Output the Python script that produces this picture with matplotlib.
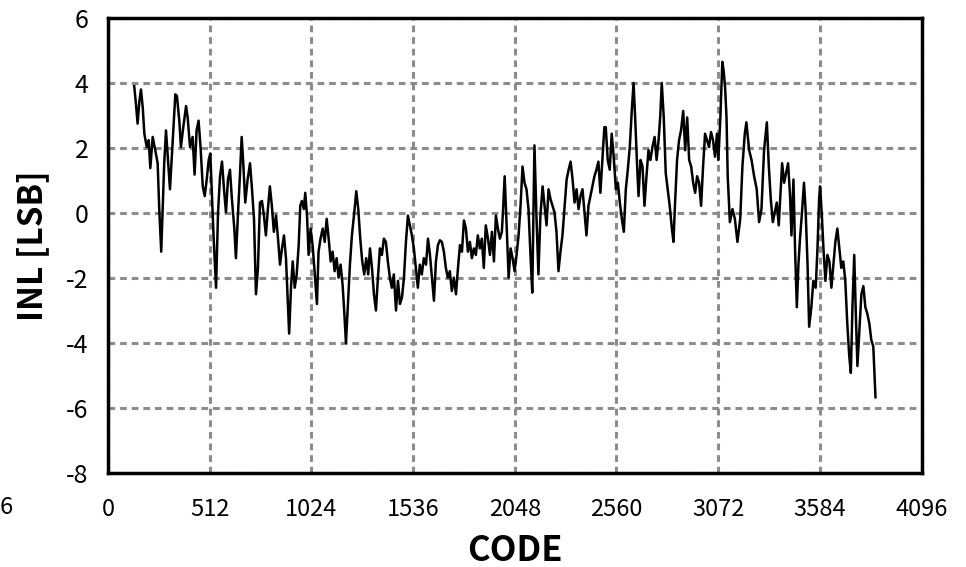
import matplotlib
matplotlib.use("Agg")
import matplotlib.pyplot as plt
from matplotlib import font_manager

# INL curve (code, LSB)
code = [132, 141, 149, 158, 166, 175, 183, 195, 205, 213, 225, 238, 250, 258, 268,
        278, 283, 292, 302, 312, 322, 331, 339, 347, 359, 367, 379, 393, 401, 413,
        426, 436, 446, 456, 466, 477, 487, 497, 507, 515, 523, 532, 544, 554, 564,
        574, 584, 594, 604, 614, 624, 636, 644, 654, 664, 673, 681, 691, 703, 715,
        725, 735, 745, 755, 765, 775, 785, 795, 805, 815, 825, 835, 846, 856, 866,
        876, 886, 896, 906, 912, 922, 930, 940, 950, 960, 968, 976, 986, 993, 1002,
        1010, 1020, 1030, 1040, 1052, 1060, 1070, 1081, 1091, 1101, 1111, 1121, 1131,
        1141, 1151, 1161, 1171, 1181, 1191, 1198, 1208, 1218, 1228, 1240, 1250, 1260,
        1270, 1280, 1290, 1300, 1310, 1319, 1329, 1339, 1349, 1359, 1369, 1379, 1389,
        1399, 1409, 1419, 1429, 1439, 1450, 1460, 1470, 1480, 1490, 1500, 1510, 1520,
        1530, 1540, 1550, 1560, 1570, 1580, 1590, 1601, 1611, 1621, 1631, 1641, 1651,
        1661, 1671, 1681, 1691, 1701, 1711, 1721, 1731, 1741, 1752, 1762, 1772, 1782,
        1792, 1802, 1812, 1822, 1832, 1842, 1852, 1862, 1872, 1882, 1892, 1902, 1913,
        1923, 1933, 1943, 1953, 1963, 1973, 1983, 1990, 1997, 2007, 2017, 2027, 2037,
        2047, 2057, 2067, 2077, 2087, 2097, 2107, 2117, 2127, 2136, 2147, 2157, 2167,
        2177, 2188, 2198, 2208, 2218, 2228, 2238, 2248, 2258, 2268, 2278, 2288, 2298,
        2309, 2319, 2329, 2339, 2349, 2359, 2369, 2379, 2389, 2399, 2409, 2419, 2429,
        2439, 2449, 2459, 2469, 2479, 2489, 2499, 2506, 2516, 2526, 2536, 2546, 2557,
        2567, 2577, 2587, 2597, 2607, 2617, 2627, 2637, 2646, 2654, 2664, 2671, 2681,
        2691, 2701, 2711, 2721, 2731, 2741, 2752, 2762, 2772, 2780, 2788, 2798, 2808,
        2818, 2828, 2839, 2847, 2855, 2865, 2875, 2885, 2896, 2906, 2916, 2926, 2936,
        2946, 2956, 2966, 2976, 2986, 2996, 3006, 3016, 3026, 3036, 3046, 3056, 3066,
        3073, 3083, 3093, 3100, 3107, 3114, 3120, 3131, 3144, 3156, 3169, 3183, 3194,
        3206, 3214, 3228, 3240, 3253, 3266, 3278, 3290, 3303, 3317, 3327, 3337, 3347,
        3357, 3367, 3377, 3387, 3394, 3404, 3414, 3424, 3434, 3441, 3451, 3459, 3468,
        3476, 3484, 3494, 3504, 3512, 3522, 3530, 3541, 3551, 3563, 3572, 3580, 3585,
        3594, 3602, 3612, 3622, 3632, 3642, 3652, 3662, 3672, 3682, 3692, 3702, 3712,
        3722, 3732, 3740, 3748, 3757, 3765, 3773, 3783, 3793, 3803, 3813, 3823, 3833,
        3843, 3853, 3864]
inl = [3.9, 3.34, 2.75, 3.44, 3.8, 3.24, 2.44, 2.03, 2.24, 1.38, 2.34, 1.93, 1.53, 0.12, -1.19,
       0.62, 1.53, 2.54, 1.63, 0.73, 1.83, 2.84, 3.65, 3.6, 2.84, 2.03, 2.64, 3.29, 2.94, 2.03,
       2.34, 1.18, 2.54, 2.84, 2.03, 0.82, 0.52, 1.03, 1.63, 1.83, 0.62, -0.79, -2.3, 0.02, 1.13,
       1.58, 0.73, 0.02, 1.03, 1.33, 0.42, -0.48, -1.39, -0.08, 1.13, 2.34, 1.53, 0.32, 1.03, 1.53,
       0.73, -0.18, -2.5, -1.69, 0.32, 0.37, -0.08, -0.69, 0.12, 0.82, 0.22, -0.58, -0.08, -0.79, -1.59,
       -1.09, -0.69, -1.39, -2.8, -3.71, -2.2, -1.49, -2.3, -1.89, -0.99, 0.22, 0.37, 0.12, 0.62, -0.08,
       -1.29, -0.48, -0.99, -1.79, -2.8, -1.19, -0.79, -0.48, -0.89, -0.18, -0.79, -1.49, -1.19,
       -1.79, -1.39, -1.99, -1.59, -2.2, -3.2, -4.01, -2.8, -1.59, -0.69, 0.02, 0.67, 0.12,
       -0.79, -1.49, -1.89, -1.39, -1.89, -1.09, -1.69, -2.5, -3.0, -1.99, -1.09, -1.29, -0.79,
       -0.89, -1.49, -1.99, -2.3, -1.89, -3.0, -2.09, -2.8, -2.6, -1.99, -0.89, -0.08, -0.38,
       -0.69, -1.09, -1.69, -2.3, -1.59, -1.89, -1.39, -1.59, -0.79, -1.29, -1.99, -2.7, -1.49,
       -0.99, -0.84, -0.89, -1.19, -1.69, -1.99, -1.79, -2.4, -1.99, -2.5, -1.69, -0.99, -1.19,
       -0.23, -0.48, -1.19, -0.89, -1.39, -1.09, -1.29, -0.69, -1.09, -0.79, -1.69, -0.38, -0.79,
       -1.29, -0.58, -1.49, -0.08, -0.48, -0.79, -0.58, 0.22, 1.13, -0.38, -1.99, -1.09, -1.39,
       -1.79, -1.29, -0.69, 0.22, 1.43, 0.93, 0.73, 0.12, -1.29, -2.45, 2.08, -0.08, -1.89,
       -0.08, 0.82, 0.22, -0.38, 0.73, 0.42, 0.22, 0.02, -0.58, -1.79, -1.19, -0.69, 0.12,
       1.03, 1.33, 1.58, 1.03, 0.32, 0.73, 0.12, 0.52, 0.73, 0.02, -0.69, 0.22, 0.52,
       0.82, 1.13, 1.33, 1.58, 0.62, 1.63, 2.64, 2.64, 1.63, 1.33, 2.44, 1.73, 0.73,
       0.93, 0.32, -0.18, -0.58, 0.73, 1.33, 2.03, 3.14, 4.0, 2.94, 1.43, 0.52, 1.63,
       1.43, 0.22, 1.13, 1.93, 1.63, 2.03, 2.34, 1.63, 2.24, 2.94, 4.0, 2.94, 1.23,
       0.73, 0.22, -0.48, -0.89, 0.32, 1.63, 2.24, 2.54, 3.14, 1.93, 2.94, 1.63, 1.43,
       0.93, 0.62, 1.13, 0.93, 0.22, 1.43, 2.44, 2.24, 2.03, 2.49, 2.24, 1.73, 2.44,
       1.63, 2.94, 4.65, 4.35, 3.85, 2.94, 1.13, -0.28, 0.12, -0.18, -0.89, -0.18, 1.43,
       2.44, 2.79, 1.93, 1.63, 1.13, 0.73, -0.28, 0.12, 1.93, 2.79, 1.43, 0.42, -0.28,
       0.02, 0.32, -0.38, 0.73, 1.53, 0.93, 1.23, 1.53, 0.52, -0.69, 1.03, -1.09, -2.9,
       -1.59, -0.79, 0.02, 0.93, 0.12, -1.59, -3.5, -2.9, -2.09, -2.3, -1.09, 0.42, 0.82,
       -0.08, -1.09, -2.09, -1.29, -1.49, -2.3, -1.59, -0.89, -0.48, -1.09, -1.69, -1.49, -2.09,
       -3.4, -4.41, -4.92, -2.9, -1.29, -3.1, -4.71, -3.6, -2.5, -2.25, -2.9, -3.1, -3.4,
       -3.91, -4.11, -5.67]

x_ticks = [0, 512, 1024, 1536, 2048, 2560, 3072, 3584, 4096]
y_ticks = [-8, -6, -4, -2, 0, 2, 4, 6]

plt.rcParams['axes.unicode_minus'] = False

installed = {f.name for f in font_manager.fontManager.ttflist}
narrow = [f for f in ['Liberation Sans Narrow', 'DejaVu Sans Condensed'] if f in installed]
base = ['Noto Sans CJK JP', 'DejaVu Sans']

fig = plt.figure(figsize=(9.66, 5.67), dpi=100)
ax = fig.add_axes([0.1118, 0.1658, 0.8422, 0.8025])

ax.plot(code, inl, color='black', lw=1.8)

ax.set_xlim(0, 4096)
ax.set_ylim(-8, 6)
ax.set_xticks(x_ticks)
ax.set_yticks(y_ticks)
ax.grid(True, color='#8c8c8c', linestyle=(0, (2.2, 1.6)), linewidth=2.2)
ax.tick_params(axis='y', length=0, pad=14)
ax.tick_params(axis='x', length=0, pad=18)
for s in ax.spines.values():
    s.set_linewidth(2.5)
    s.set_color('black')

for t in ax.get_yticklabels():
    t.set_fontfamily(base)
    t.set_fontsize(18)
for t in ax.get_xticklabels():
    t.set_fontfamily(narrow + base if t.get_text() != '0' else base)
    t.set_fontsize(17)

ax.set_xlabel('CODE', fontsize=25, fontweight='bold', family=narrow + base, labelpad=9)
ax.set_ylabel('INL [LSB]', fontsize=24, fontweight='bold', family=base, labelpad=12)

# clipped leftover tick label at the far left
fig.text(0.0, 0.105, '6', fontsize=17, family=base, ha='left', va='center')

fig.savefig('out.png', dpi=100)
